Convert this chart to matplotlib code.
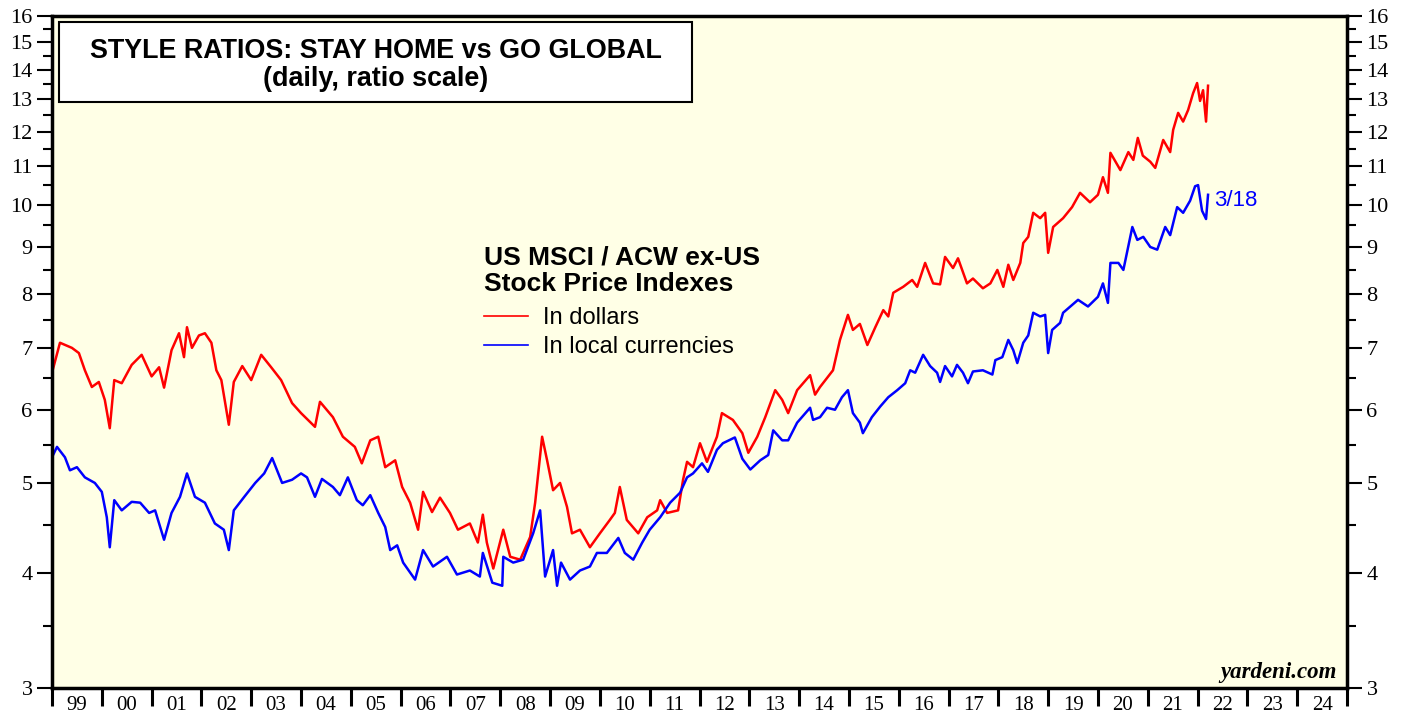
"""
plot.py — Style ratios: stay home vs go global (US MSCI / ACW ex-US).
"""

import matplotlib
matplotlib.use("Agg")
import matplotlib.pyplot as plt
import matplotlib.patches as patches
from matplotlib.ticker import FixedLocator, NullFormatter, FixedFormatter

# ---- data (decimal year, ratio) ----
red_pts = [
    (1999.00, 6.58), (1999.16, 7.09), (1999.40, 7.00), (1999.54, 6.91), (1999.66, 6.62),
    (1999.80, 6.35), (1999.94, 6.43), (2000.06, 6.15), (2000.16, 5.73), (2000.25, 6.46),
    (2000.40, 6.41), (2000.60, 6.71), (2000.80, 6.88), (2001.00, 6.52), (2001.15, 6.67),
    (2001.25, 6.34), (2001.40, 6.96), (2001.55, 7.26), (2001.65, 6.84), (2001.71, 7.37),
    (2001.81, 7.00), (2001.95, 7.22), (2002.07, 7.26), (2002.20, 7.09), (2002.30, 6.62),
    (2002.40, 6.46), (2002.55, 5.78), (2002.65, 6.43), (2002.82, 6.69), (2003.00, 6.46),
    (2003.20, 6.88), (2003.40, 6.67), (2003.60, 6.46), (2003.82, 6.10), (2004.00, 5.95),
    (2004.28, 5.75), (2004.38, 6.12), (2004.64, 5.89), (2004.84, 5.61), (2005.08, 5.47),
    (2005.22, 5.25), (2005.39, 5.56), (2005.55, 5.61), (2005.69, 5.20), (2005.89, 5.29),
    (2006.03, 4.95), (2006.19, 4.76), (2006.35, 4.45), (2006.45, 4.89), (2006.63, 4.65),
    (2006.79, 4.82), (2006.99, 4.64), (2007.15, 4.45), (2007.39, 4.52), (2007.55, 4.31),
    (2007.65, 4.62), (2007.73, 4.31), (2007.86, 4.04), (2008.06, 4.45), (2008.20, 4.16),
    (2008.40, 4.13), (2008.60, 4.37), (2008.70, 4.76), (2008.84, 5.61), (2008.94, 5.29),
    (2009.06, 4.91), (2009.20, 5.00), (2009.34, 4.71), (2009.44, 4.41), (2009.60, 4.45),
    (2009.80, 4.26), (2010.00, 4.41), (2010.20, 4.56), (2010.30, 4.64), (2010.40, 4.95),
    (2010.54, 4.56), (2010.77, 4.41), (2010.95, 4.59), (2011.15, 4.67), (2011.21, 4.79),
    (2011.35, 4.64), (2011.57, 4.67), (2011.67, 5.04), (2011.75, 5.27), (2011.87, 5.20),
    (2012.01, 5.52), (2012.15, 5.27), (2012.35, 5.61), (2012.45, 5.95), (2012.67, 5.85),
    (2012.86, 5.66), (2012.98, 5.39), (2013.16, 5.61), (2013.32, 5.89), (2013.52, 6.30),
    (2013.66, 6.15), (2013.78, 5.95), (2013.96, 6.30), (2014.22, 6.54), (2014.32, 6.23),
    (2014.42, 6.35), (2014.68, 6.62), (2014.82, 7.14), (2014.98, 7.60), (2015.08, 7.32),
    (2015.22, 7.43), (2015.37, 7.05), (2015.53, 7.37), (2015.69, 7.69), (2015.79, 7.57),
    (2015.89, 8.03), (2016.09, 8.15), (2016.27, 8.29), (2016.37, 8.15), (2016.53, 8.65),
    (2016.69, 8.22), (2016.83, 8.20), (2016.93, 8.78), (2017.09, 8.54), (2017.19, 8.75),
    (2017.37, 8.22), (2017.49, 8.32), (2017.69, 8.12), (2017.84, 8.22), (2017.98, 8.50),
    (2018.10, 8.15), (2018.20, 8.61), (2018.30, 8.29), (2018.44, 8.65), (2018.50, 9.09),
    (2018.60, 9.23), (2018.70, 9.80), (2018.84, 9.67), (2018.94, 9.80), (2019.00, 8.87),
    (2019.10, 9.46), (2019.30, 9.67), (2019.48, 9.94), (2019.64, 10.30), (2019.84, 10.06),
    (2020.00, 10.25), (2020.10, 10.71), (2020.20, 10.30), (2020.25, 11.38), (2020.45, 10.90),
    (2020.61, 11.40), (2020.71, 11.18), (2020.80, 11.81), (2020.90, 11.30), (2021.05, 11.13),
    (2021.15, 10.96), (2021.31, 11.75), (2021.45, 11.40), (2021.51, 12.05), (2021.61, 12.57),
    (2021.71, 12.30), (2021.81, 12.66), (2021.91, 13.20), (2021.99, 13.54), (2022.05, 12.95),
    (2022.11, 13.30), (2022.17, 12.30), (2022.21, 13.45),
]

blue_pts = [
    (1999.00, 5.33), (1999.10, 5.47), (1999.26, 5.33), (1999.36, 5.16), (1999.50, 5.20),
    (1999.66, 5.07), (1999.86, 5.00), (2000.00, 4.89), (2000.10, 4.59), (2000.16, 4.26),
    (2000.25, 4.79), (2000.40, 4.67), (2000.60, 4.77), (2000.77, 4.76), (2000.95, 4.64),
    (2001.07, 4.67), (2001.25, 4.34), (2001.40, 4.64), (2001.57, 4.83), (2001.71, 5.12),
    (2001.87, 4.83), (2002.07, 4.76), (2002.27, 4.52), (2002.45, 4.45), (2002.55, 4.23),
    (2002.65, 4.67), (2002.86, 4.83), (2003.08, 5.00), (2003.26, 5.12), (2003.42, 5.32),
    (2003.62, 5.00), (2003.82, 5.04), (2004.00, 5.12), (2004.12, 5.07), (2004.28, 4.83),
    (2004.42, 5.05), (2004.64, 4.95), (2004.78, 4.85), (2004.94, 5.07), (2005.12, 4.79),
    (2005.24, 4.73), (2005.39, 4.85), (2005.55, 4.64), (2005.69, 4.48), (2005.79, 4.23),
    (2005.93, 4.28), (2006.05, 4.10), (2006.29, 3.93), (2006.45, 4.23), (2006.65, 4.06),
    (2006.93, 4.16), (2007.13, 3.98), (2007.39, 4.02), (2007.59, 3.96), (2007.65, 4.20),
    (2007.84, 3.90), (2008.04, 3.87), (2008.06, 4.16), (2008.26, 4.10), (2008.46, 4.13),
    (2008.66, 4.41), (2008.80, 4.67), (2008.90, 3.96), (2009.06, 4.23), (2009.14, 3.87),
    (2009.22, 4.10), (2009.40, 3.93), (2009.60, 4.02), (2009.80, 4.06), (2009.94, 4.20),
    (2010.14, 4.20), (2010.37, 4.36), (2010.50, 4.20), (2010.67, 4.13), (2010.85, 4.31),
    (2011.00, 4.45), (2011.21, 4.59), (2011.41, 4.76), (2011.61, 4.88), (2011.75, 5.07),
    (2011.87, 5.12), (2012.05, 5.25), (2012.17, 5.14), (2012.35, 5.43), (2012.47, 5.52),
    (2012.71, 5.60), (2012.86, 5.31), (2013.02, 5.17), (2013.22, 5.29), (2013.38, 5.36),
    (2013.48, 5.70), (2013.66, 5.56), (2013.78, 5.56), (2013.96, 5.81), (2014.22, 6.03),
    (2014.28, 5.85), (2014.42, 5.89), (2014.56, 6.03), (2014.72, 6.00), (2014.86, 6.19),
    (2014.98, 6.30), (2015.08, 5.95), (2015.22, 5.81), (2015.28, 5.66), (2015.46, 5.89),
    (2015.63, 6.05), (2015.79, 6.19), (2015.97, 6.30), (2016.13, 6.41), (2016.23, 6.62),
    (2016.33, 6.58), (2016.49, 6.88), (2016.63, 6.69), (2016.77, 6.58), (2016.83, 6.43),
    (2016.93, 6.69), (2017.07, 6.52), (2017.17, 6.71), (2017.29, 6.58), (2017.39, 6.41),
    (2017.49, 6.60), (2017.69, 6.62), (2017.88, 6.55), (2017.94, 6.79), (2018.08, 6.84),
    (2018.20, 7.14), (2018.30, 6.96), (2018.38, 6.74), (2018.50, 7.09), (2018.60, 7.22),
    (2018.70, 7.64), (2018.84, 7.57), (2018.94, 7.60), (2019.00, 6.91), (2019.08, 7.32),
    (2019.24, 7.45), (2019.30, 7.64), (2019.60, 7.89), (2019.80, 7.76), (2020.00, 7.95),
    (2020.10, 8.22), (2020.20, 7.83), (2020.25, 8.65), (2020.41, 8.65), (2020.51, 8.50),
    (2020.69, 9.46), (2020.79, 9.16), (2020.91, 9.23), (2021.05, 9.00), (2021.19, 8.94),
    (2021.35, 9.46), (2021.45, 9.27), (2021.59, 9.94), (2021.71, 9.80), (2021.85, 10.10),
    (2021.95, 10.47), (2022.01, 10.50), (2022.09, 9.85), (2022.17, 9.65), (2022.21, 10.25),
]

years = list(range(1999, 2026))
year_labels = [f"{y % 100:02d}" for y in range(1999, 2025)]
y_major = list(range(3, 17))
y_minor = [v + 0.5 for v in range(3, 16)]

title_text = "STYLE RATIOS: STAY HOME vs GO GLOBAL\n(daily, ratio scale)"
legend_title = "US MSCI / ACW ex-US\nStock Price Indexes"
red_label = "In dollars"
blue_label = "In local currencies"
end_label = "3/18"

SERIF = ["Liberation Serif", "DejaVu Serif"]
SANS = ["Liberation Sans", "DejaVu Sans"]
plt.rcParams["font.family"] = SANS

fig = plt.figure(figsize=(14.07, 7.17), dpi=100)
ax = fig.add_axes([0.03696, 0.04045, 0.9204, 0.9372])
ax.set_facecolor("#FFFFE6")

rt, rv = zip(*red_pts)
bt, bv = zip(*blue_pts)
ax.plot(rt, rv, color="#FF0000", lw=1.8, label=red_label)
ax.plot(bt, bv, color="#0000FF", lw=1.8, label=blue_label)

ax.set_yscale("log")
ax.set_ylim(3, 16)
ax.set_xlim(years[0], years[-1])

# y axis: labels on both sides
ax.yaxis.set_major_locator(FixedLocator(y_major))
ax.yaxis.set_major_formatter(FixedFormatter([str(v) for v in y_major]))
ax.yaxis.set_minor_locator(FixedLocator(y_minor))
ax.yaxis.set_minor_formatter(NullFormatter())
ax.tick_params(axis="y", which="both", direction="out", left=True, right=True,
               labelleft=True, labelright=True, width=1.5, labelsize=16, pad=3)
ax.tick_params(axis="y", which="major", length=11)
ax.tick_params(axis="y", which="minor", length=6.5)

# x axis: ticks at year boundaries, labels in the middle of each year
ax.xaxis.set_major_locator(FixedLocator(years))
ax.xaxis.set_major_formatter(NullFormatter())
ax.xaxis.set_minor_locator(FixedLocator([y + 0.5 for y in years[:-1]]))
ax.xaxis.set_minor_formatter(FixedFormatter(year_labels))
ax.tick_params(axis="x", which="major", direction="out", length=13, width=2.2)
ax.tick_params(axis="x", which="minor", length=0, labelsize=15, pad=6)

for t in ax.xaxis.get_minor_ticks():
    t.label1.set_family(SERIF)
for t in ax.yaxis.get_major_ticks():
    t.label1.set_family(SERIF)
    t.label2.set_family(SERIF)

for sp in ax.spines.values():
    sp.set_linewidth(2.5)

# title box
ax.add_patch(patches.Rectangle((0.0054, 0.872), 0.4888, 0.119, transform=ax.transAxes,
                               facecolor="white", edgecolor="black", lw=1.5, zorder=5))
ax.text(0.2498, 0.927, title_text, transform=ax.transAxes, ha="center", va="center",
        fontsize=19.4, fontweight="bold", linespacing=1.12, zorder=6)

# legend
leg = ax.legend(title=legend_title, loc="upper left", bbox_to_anchor=(0.3335, 0.658),
                frameon=False, fontsize=17, handlelength=1.85, handletextpad=0.65,
                labelspacing=0.3, borderpad=0, borderaxespad=0, alignment="left",
                title_fontproperties={"weight": "bold", "size": 19})
leg._legend_box.sep = 8
leg.get_title().set_linespacing(1.1)
for line in leg.get_lines():
    line.set_linewidth(1.2)

ax.text(rt[-1] + 0.13, bv[-1] * 0.985, end_label, color="#0000FF", fontsize=16,
        ha="left", va="center")
ax.text(0.992, 0.008, "yardeni.com", transform=ax.transAxes, ha="right", va="bottom",
        fontsize=16.5, fontweight="bold", style="italic", family=SERIF)

fig.savefig("out.png", dpi=100)
